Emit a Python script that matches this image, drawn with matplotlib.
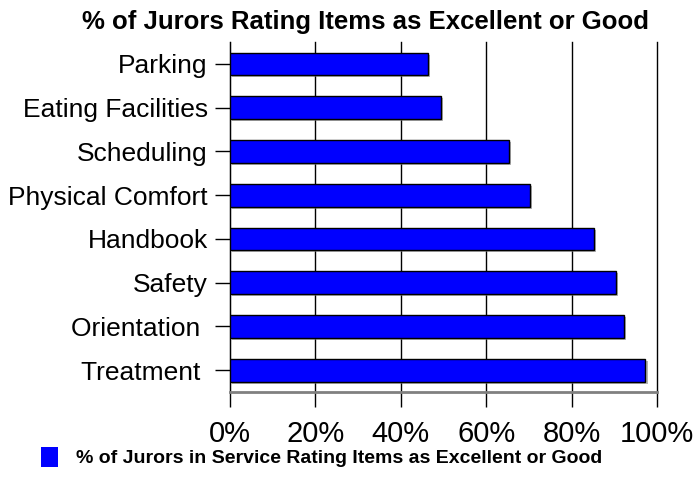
import matplotlib.pyplot as plt
import matplotlib.patheffects as pe
from matplotlib.patches import Patch

# data (top to bottom)
categories = ['Parking', 'Eating Facilities', 'Scheduling', 'Physical Comfort',
              'Handbook', 'Safety', 'Orientation ', 'Treatment ']
values = [46.4, 49.3, 65.4, 70.3, 85.3, 90.4, 92.3, 97.3]
xticks = [0, 20, 40, 60, 80, 100]
xtick_labels = ['0%', '20%', '40%', '60%', '80%', '100%']
series_name = '% of Jurors in Service Rating Items as Excellent or Good'
title = '% of Jurors Rating Items as Excellent or Good'

plt.rcParams['font.family'] = ['Liberation Sans', 'DejaVu Sans']

fig = plt.figure(figsize=(6.93, 4.93), dpi=100)
ax = fig.add_axes([230 / 693, 1 - 392 / 493, 427 / 693, 350 / 493])

ypos = list(range(len(categories)))
bars = ax.barh(ypos, values, height=0.52, color='#0000ff', edgecolor='black',
               linewidth=1.0, zorder=3)
for b in bars:
    b.set_path_effects([pe.SimplePatchShadow(offset=(1.5, -1.5), shadow_rgbFace='gray', alpha=0.6),
                        pe.Normal()])

ax.set_xlim(0, 100)
ax.set_ylim(len(categories) - 0.5, -0.5)
ax.set_yticks(ypos)
ax.set_yticklabels(categories, fontsize=19)
ax.set_xticks(xticks)
ax.set_xticklabels(xtick_labels, fontsize=21)

ax.grid(axis='x', color='black', linewidth=1.0, zorder=0)
for gl in ax.get_xgridlines():
    gl.set_clip_on(False)
for s in ['top', 'right']:
    ax.spines[s].set_visible(False)
ax.spines['left'].set_color('black')
ax.spines['bottom'].set_color('gray')
ax.spines['bottom'].set_linewidth(2)
ax.tick_params(axis='y', length=11, width=1, pad=5, colors='black')
ax.tick_params(axis='x', length=11, width=1, pad=9)

# title sits left of the axes centre in the reference
fig.text(366 / 693, 1 - 22 / 493, title, fontsize=18.5, fontweight='bold',
         ha='center', va='center')

fig.legend(handles=[Patch(facecolor='#0000ff', edgecolor='none')], labels=[series_name],
           loc='center left', bbox_to_anchor=(23 / 693, 1 - 457 / 493), frameon=False,
           prop={'size': 14, 'weight': 'bold'}, handlelength=0.9, handleheight=1.25,
           handletextpad=0.95)

fig.savefig('out.png', dpi=100)
